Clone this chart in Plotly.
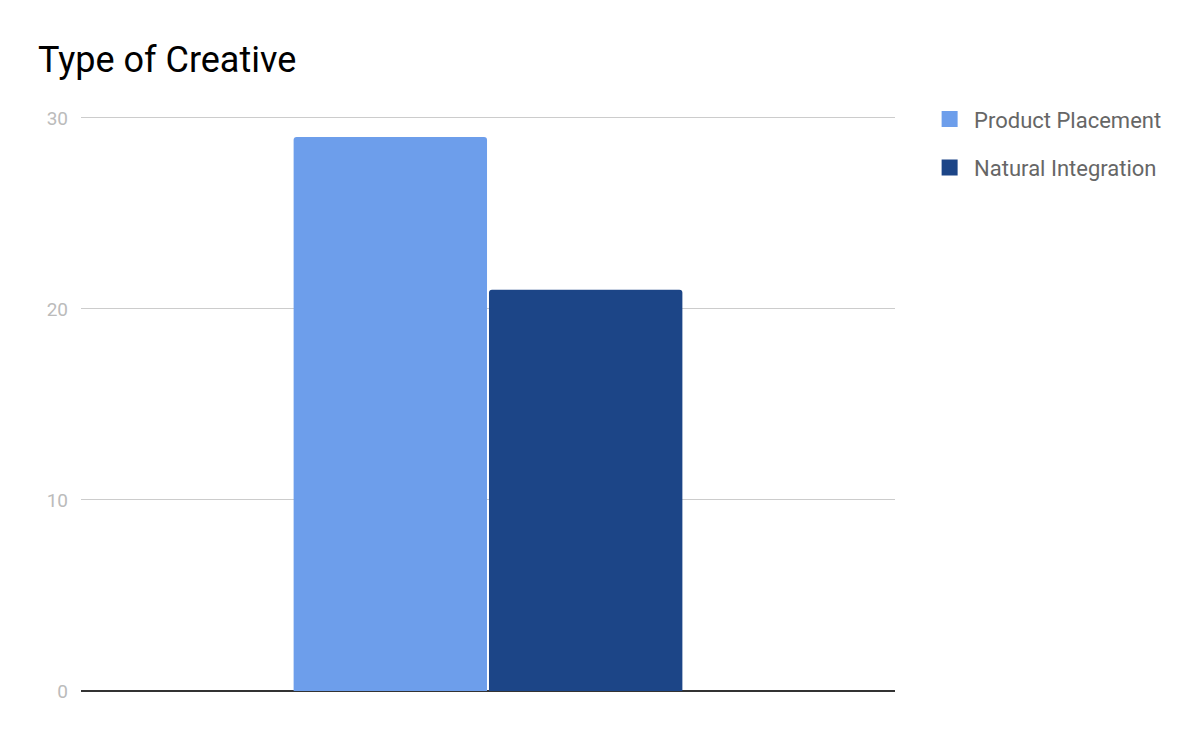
import plotly.graph_objects as go

categories = ["Type of Creative"]
series_names = ["Product Placement", "Natural Integration"]
series_values = [[29], [21]]
colors = ["#6d9eeb", "#1c4587"]
y_ticks = [0, 10, 20, 30]

fig = go.Figure()

for i, (name, vals, color) in enumerate(zip(series_names, series_values, colors)):
    fig.add_trace(go.Bar(
        x=categories,
        y=vals,
        name=name,
        marker_color=color,
        marker_line_width=0,
        marker_cornerradius=3,
        showlegend=False,
        legendgroup=f"g{i}",
    ))
    # bigger legend squares than the default bar swatch
    fig.add_trace(go.Scatter(
        x=[None],
        y=[None],
        mode="markers",
        name=name,
        legendgroup=f"g{i}",
        marker=dict(symbol="square", size=24, color=color),
    ))

# page has an 8px body margin, so everything is offset by 8px
fig.update_layout(
    width=1200,
    height=742,
    title=dict(
        text="Type of Creative",
        x=30 / 1200,
        xanchor="left",
        y=1 - 64 / 742,
        yanchor="bottom",
        font=dict(family="Roboto", size=36, color="#000000"),
    ),
    font=dict(family="Roboto"),
    plot_bgcolor="white",
    paper_bgcolor="white",
    barmode="group",
    bargap=0.52,
    bargroupgap=0.01,
    margin=dict(l=73, r=313, t=108, b=59),
    legend=dict(
        x=1.037,
        xanchor="left",
        y=1.031,
        yanchor="top",
        font=dict(family="Roboto", size=22, color="#666666"),
        traceorder="grouped",
        tracegroupgap=17,
        itemsizing="trace",
        itemwidth=39,
        bgcolor="rgba(0,0,0,0)",
    ),
)

fig.update_xaxes(showticklabels=False, showgrid=False, zeroline=False, showline=False)
fig.update_yaxes(
    range=[0, 30.1],  # tiny headroom so the 30 gridline is drawn
    tickvals=y_ticks,
    showgrid=True,
    gridcolor="#cccccc",
    gridwidth=1,
    zeroline=True,
    zerolinecolor="#333333",
    zerolinewidth=2,
    showline=False,
    ticks="",
    ticklabelstandoff=12,
    tickfont=dict(family="Roboto", size=19, color="#bbbbbb"),
)

fig.write_html("out.html")
